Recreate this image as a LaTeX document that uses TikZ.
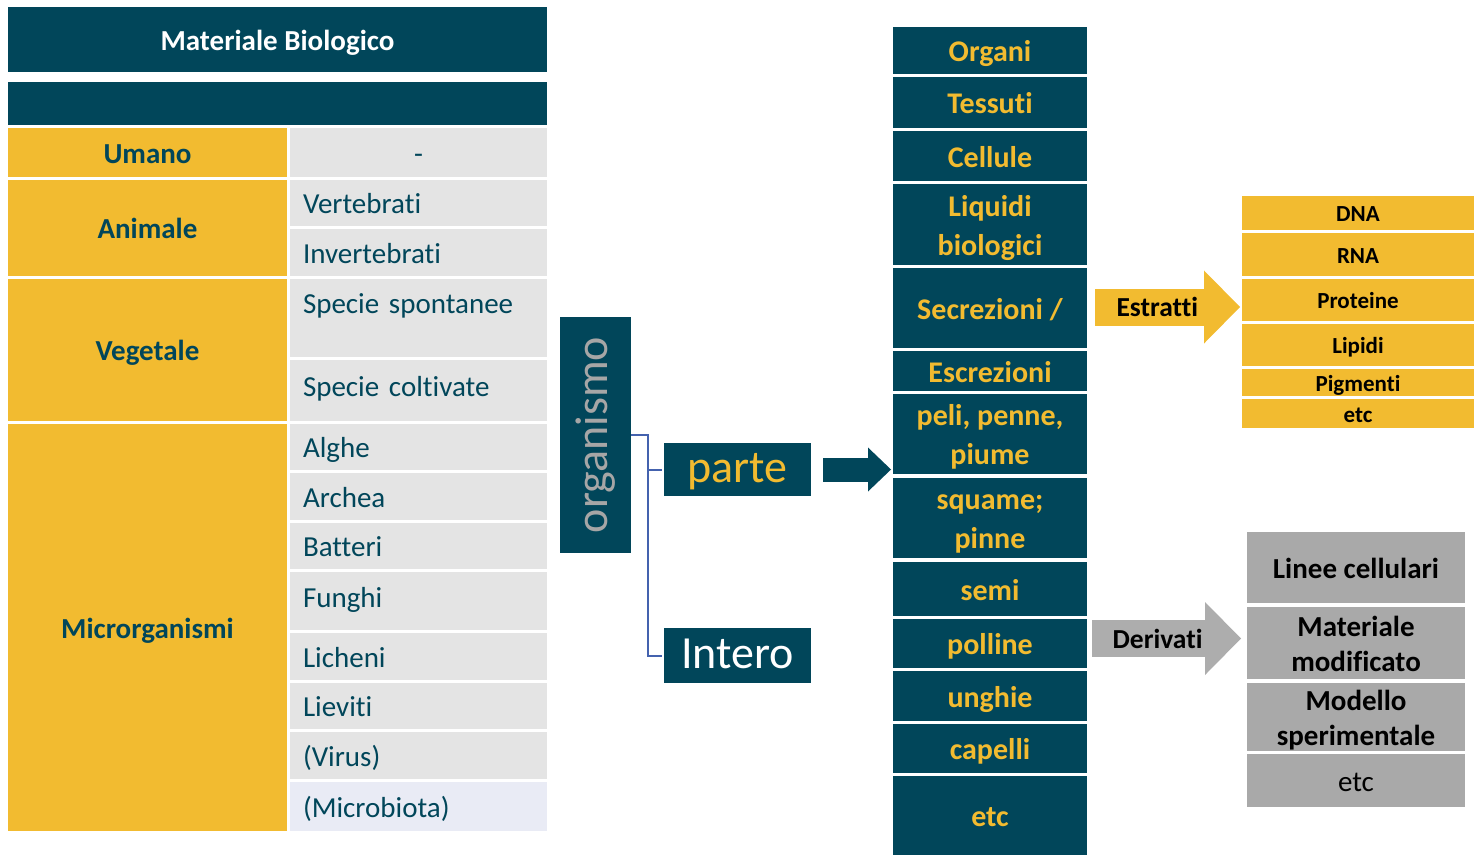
\documentclass[tikz,border=0pt]{standalone}
\usepackage{fontspec}
\setmainfont{Carlito}[Ligatures=NoCommon]
\usetikzlibrary{positioning}
\usetikzlibrary{arrows.meta}
\definecolor{darkteal}{HTML}{01465A}
\definecolor{gold}{HTML}{F2BB30}
\definecolor{cellgrey}{HTML}{E4E4E4}
\definecolor{mistgrey}{HTML}{E9EBF5}
\definecolor{boxgrey}{HTML}{A9A9A9}
\definecolor{arrowgrey}{HTML}{ADADAD}
\definecolor{labelgrey}{HTML}{A6A6A6}
\definecolor{bracketblue}{HTML}{4462AE}
\tikzset {
  flat/.style={inner sep=0pt, outer sep=0pt},
  % line box of the slide text, for 29pt and 30pt
  line29/.style={text height=26.7pt, text depth=5.2pt},
  line30/.style={text height=27.6pt, text depth=5.4pt},
  % more than one line in a box (height of all lines above the last)
  lines/.style={text height=#1},
  % table of the material
  hdr/.style={flat, line29, fill=darkteal, text=white, font=\bfseries\fontsize{29}{35}\selectfont},
  ycell/.style={flat, line29, fill=gold, text=darkteal, font=\bfseries\fontsize{29}{35}\selectfont},
  gcell/.style={flat, line29, fill=cellgrey, text=darkteal, font=\fontsize{29}{35}\selectfont,
    inner xsep=13pt, text width=231pt, align=left},
  % organismo / parte / intero
  bigbox/.style={flat, fill=darkteal, font=\fontsize{46}{55}\selectfont},
  bracket/.style={bracketblue, line width=2pt},
  % parts of the organism
  organbox/.style={flat, line30, fill=darkteal, text=gold, font=\bfseries\fontsize{30}{39}\selectfont, align=center},
  % what comes out of them
  extract/.style={flat, fill=gold, text=black, font=\bfseries\fontsize{23}{28}\selectfont,
    text height=21.2pt, text depth=4.1pt},
  derived/.style={flat, line29, fill=boxgrey, text=black, font=\bfseries\fontsize{29}{35}\selectfont, align=center},
  fatarrow/.style={line width=#1},
  arrowlabel/.style={font=\bfseries\fontsize{27.5}{33}\selectfont, text=black},
}
% box from corner (x1,y1) to corner (x2,y2)
\newcommand{\tcell}[6]{%
  \node[#1, minimum width={#4-#2}, minimum height={#5-#3}] (#6) at ({(#2+#4)/2}, {(#3+#5)/2})}

\begin{document}
\begin{tikzpicture}[x=1pt, y=-1pt]
  \useasboundingbox (0,0) rectangle (1474,855);

  % left table
  \tcell{hdr}{8}{7}{547}{72}{title} {Materiale Biologico};
  \tcell{hdr}{8}{82}{547}{125}{band} {};
  \tcell{ycell}{8}{128}{287}{177}{umano} {Umano};
  \tcell{ycell}{8}{180}{287}{276}{animale} {Animale};
  \tcell{ycell}{8}{279}{287}{421}{vegetale} {Vegetale};
  \tcell{ycell}{8}{424}{287}{831}{micro} {Microrganismi};

  \tcell{gcell, align=center}{290}{128}{547}{177}{nessuno} {-};
  \tcell{gcell}{290}{180}{547}{226}{vertebrati} {Vertebrati};
  \tcell{gcell}{290}{229}{547}{276}{invertebrati} {Invertebrati};
  \tcell{gcell, text depth=35.2pt}{290}{279}{547}{357}{spontanee} {Specie spontanee};
  \tcell{gcell, text depth=15.2pt}{290}{360}{547}{421}{coltivate} {Specie coltivate};
  \tcell{gcell}{290}{424}{547}{470}{alghe} {Alghe};
  \tcell{gcell}{290}{473}{547}{520}{archea} {Archea};
  \tcell{gcell}{290}{523}{547}{569}{batteri} {Batteri};
  \tcell{gcell, text depth=13.2pt}{290}{572}{547}{630}{funghi} {Funghi};
  \tcell{gcell}{290}{633}{547}{680}{licheni} {Licheni};
  \tcell{gcell}{290}{683}{547}{729}{lieviti} {Lieviti};
  \tcell{gcell}{290}{732}{547}{779}{virus} {(Virus)};
  \tcell{gcell, fill=mistgrey}{290}{782}{547}{831}{microbiota} {(Microbiota)};

  % organismo
  \tcell{bigbox, text=labelgrey}{560}{317}{631}{553}{organismo} {\rotatebox{90}{organismo}};
  \tcell{bigbox, text=gold, text height=36pt, text depth=9.4pt}{664}{443}{811}{496}{parte} {parte};
  \tcell{bigbox, text=white, text height=36pt, text depth=9.4pt}{664}{628}{811}{683}{intero} {Intero};

  \draw[bracket] (organismo.east) -- ++(17,0) |- ([xshift=-2pt]parte.west);
  \draw[bracket] (organismo.east) ++(17,0) |- ([xshift=-2pt]intero.west);

  % column of parts
  \tcell{organbox}{893}{27}{1087}{74}{organi} {Organi};
  \tcell{organbox}{893}{77}{1087}{128}{tessuti} {Tessuti};
  \tcell{organbox}{893}{131}{1087}{181}{cellule} {Cellule};
  \tcell{organbox, lines=66.6pt}{893}{184}{1087}{265}{liquidi} {Liquidi\\biologici};
  \tcell{organbox}{893}{268}{1087}{348}{secrezioni} {Secrezioni /};
  \tcell{organbox}{893}{351}{1087}{391}{escrezioni} {Escrezioni};
  \tcell{organbox, lines=66.6pt}{893}{394}{1087}{474}{peli} {peli, penne,\\piume};
  \tcell{organbox, lines=66.6pt}{893}{478}{1087}{558}{squame} {squame;\\pinne};
  \tcell{organbox}{893}{562}{1087}{616}{semi} {semi};
  \tcell{organbox}{893}{619}{1087}{668}{polline} {polline};
  \tcell{organbox}{893}{671}{1087}{721}{unghie} {unghie};
  \tcell{organbox}{893}{724}{1087}{773}{capelli} {capelli};
  \tcell{organbox}{893}{776}{1087}{855}{etcparti} {etc};

  \draw[darkteal, fatarrow=24pt, -{Triangle[width=44pt, length=23pt, line width=0pt]}]
    ([xshift=12pt]parte.east) -- ([xshift=-2pt]peli.west |- parte.east);

  % extracts
  \tcell{extract}{1242}{196}{1474}{230}{dna} {DNA};
  \tcell{extract}{1242}{233}{1474}{276}{rna} {RNA};
  \tcell{extract}{1242}{279}{1474}{321}{proteine} {Proteine};
  \tcell{extract}{1242}{324}{1474}{366}{lipidi} {Lipidi};
  \tcell{extract}{1242}{369}{1474}{396}{pigmenti} {Pigmenti};
  \tcell{extract}{1242}{399}{1474}{428}{etcestratti} {etc};

  \draw[gold, fatarrow=37pt, -{Triangle[width=73pt, length=36pt, line width=0pt]}]
    ([xshift=8pt, yshift=1pt]secrezioni.east) coordinate (etail)
    -- ([xshift=-2pt]proteine.west |- etail) node[arrowlabel, pos=0.43] (estratti) {Estratti};

  % derived material
  \tcell{derived}{1247}{532}{1465}{603}{linee} {Linee cellulari};
  \tcell{derived, lines=61.7pt}{1247}{607}{1465}{679}{materiale} {Materiale\\modificato};
  \tcell{derived, lines=61.7pt}{1247}{683}{1465}{751}{modello} {Modello\\sperimentale};
  \tcell{derived, font=\fontsize{29}{35}\selectfont}{1247}{754}{1465}{807}{etcderivati} {etc};

  \draw[arrowgrey, fatarrow=37pt, -{Triangle[width=73pt, length=36pt, line width=0pt]}]
    ([xshift=5pt, yshift=5pt]polline.east) coordinate (dtail)
    -- ([xshift=-6pt]materiale.west |- dtail) node[arrowlabel, pos=0.44] (derivati) {Derivati};
\end{tikzpicture}
\end{document}
